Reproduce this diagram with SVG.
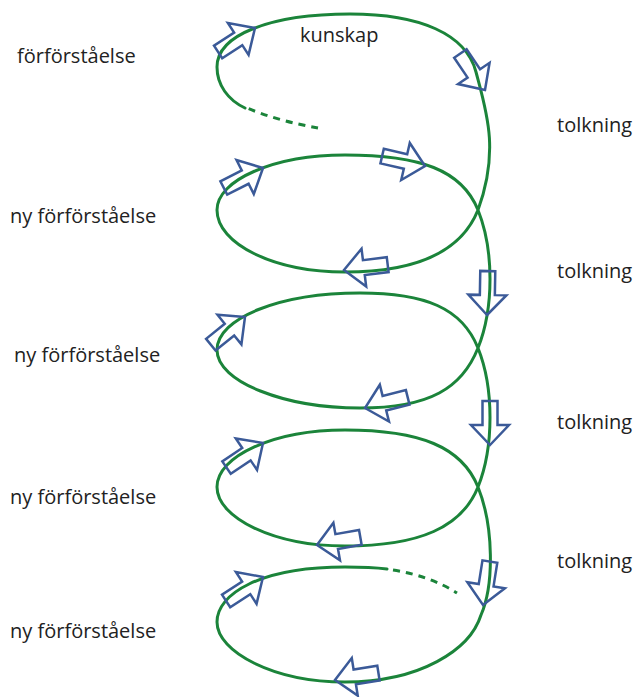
<svg xmlns="http://www.w3.org/2000/svg" xmlns:xlink="http://www.w3.org/1999/xlink" width="643" height="697" viewBox="0 0 643 697">
<style>
.lbl{font-family:"Open Sans","Liberation Sans",sans-serif;font-size:20px;fill:#222}
.coil{fill:none;stroke:#1b843a;stroke-width:3;stroke-linecap:round}
.dash{fill:none;stroke:#1b843a;stroke-width:3;stroke-dasharray:7 6}
.arr{fill:none;stroke:#3b5a98;stroke-width:2.5;stroke-linejoin:miter}
</style>
<defs>
<polygon id="arrow" points="0,0 -20,-19 -20,-7.5 -44,-7.5 -44,7.5 -20,7.5 -20,19"/>
</defs>
<rect width="643" height="697" fill="#fff"/>
<g id="connectors">
<path class="dash" d="M318,128 C295,124 268,117 247,108"/>
<path class="coil" d="M245,108 C228,100 217,85 217,67 C217,35 270,14 350,14 C420,14 466,34 476,72 C486,110 500,150 478,210 C462,250 420,272 345,272 C274,272 217,244 217,210 C217,180 274,155 345,155 C420,155 462,170 478,210 C494,250 494,308 478,348 C462,388 430,408 360,408 C285,408 217,382 217,350 C217,318 280,293 360,293 C425,293 462,308 478,348 C494,388 494,447 478,487 C462,527 420,546 345,546 C274,546 217,518 217,487 C217,456 274,430 345,430 C420,430 462,447 478,487 C494,527 494,585 481,615 C470,650 420,682 345,682 C274,682 217,652 217,622 C217,594 260,567 345,567 C362,567 375,567.5 387,569"/>
<path class="dash" d="M393,570 C418,574 440,582 457,593"/>
</g>
<g id="arrows" class="arr">
<use xlink:href="#arrow" transform="translate(255,28) rotate(-33)"/>
<use xlink:href="#arrow" transform="translate(485,90) rotate(56)"/>
<use xlink:href="#arrow" transform="translate(425,166) rotate(13)"/>
<use xlink:href="#arrow" transform="translate(263,168) rotate(-27)"/>
<use xlink:href="#arrow" transform="translate(344,270) rotate(173)"/>
<use xlink:href="#arrow" transform="translate(487,315) rotate(91)"/>
<use xlink:href="#arrow" transform="translate(245,317) rotate(-39)"/>
<use xlink:href="#arrow" transform="translate(365,408) rotate(166)"/>
<use xlink:href="#arrow" transform="translate(490,445) rotate(90)"/>
<use xlink:href="#arrow" transform="translate(263,443) rotate(-34)"/>
<use xlink:href="#arrow" transform="translate(317,545) rotate(170)"/>
<use xlink:href="#arrow" transform="translate(483,605) rotate(99)"/>
<use xlink:href="#arrow" transform="translate(263,577) rotate(-33)"/>
<use xlink:href="#arrow" transform="translate(335,680) rotate(171)"/>
</g>
<g id="label-forforstaelse"><text class="lbl" x="17" y="63">förförståelse</text></g>
<g id="label-kunskap"><text class="lbl" x="300" y="42">kunskap</text></g>
<g id="label-tolkning-1"><text class="lbl" x="557" y="132">tolkning</text></g>
<g id="label-tolkning-2"><text class="lbl" x="557" y="278">tolkning</text></g>
<g id="label-tolkning-3"><text class="lbl" x="557" y="429">tolkning</text></g>
<g id="label-tolkning-4"><text class="lbl" x="557" y="568">tolkning</text></g>
<g id="label-ny-1"><text class="lbl" x="10" y="223">ny förförståelse</text></g>
<g id="label-ny-2"><text class="lbl" x="14" y="362">ny förförståelse</text></g>
<g id="label-ny-3"><text class="lbl" x="10" y="504">ny förförståelse</text></g>
<g id="label-ny-4"><text class="lbl" x="10" y="638">ny förförståelse</text></g>
</svg>
